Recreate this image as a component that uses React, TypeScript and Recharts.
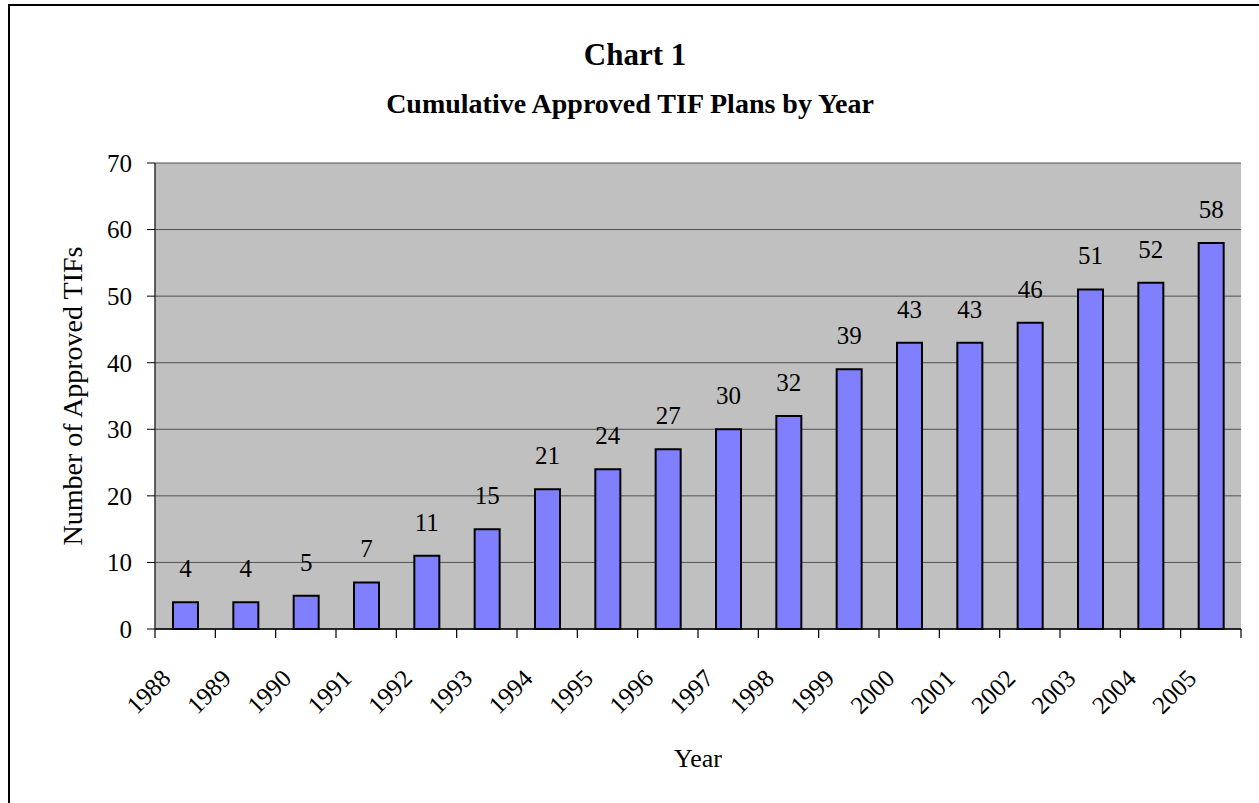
import React from "react";
import {
  BarChart,
  Bar,
  XAxis,
  YAxis,
  CartesianGrid,
  LabelList
} from "recharts";

const years = [
  "1988", "1989", "1990", "1991", "1992", "1993", "1994", "1995", "1996",
  "1997", "1998", "1999", "2000", "2001", "2002", "2003", "2004", "2005"
];
const approved = [4, 4, 5, 7, 11, 15, 21, 24, 27, 30, 32, 39, 43, 43, 46, 51, 52, 58];
const yTicks = [0, 10, 20, 30, 40, 50, 60, 70];

const data = years.map((year, i) => ({ year, approved: approved[i] }));

const FONT = '"Liberation Serif", "Times New Roman", serif';

// year label rotated 45deg, plus the tick marks at the category edges (Excel style)
const YearTick = (props: any) => {
  const { x, y, payload, index, visibleTicksCount } = props;
  const half = payload && payload.offset ? payload.offset : 30.17;
  const ax = x - 13;
  const ay = y + 51;
  const last = index === (visibleTicksCount ?? years.length) - 1;
  return (
    <g>
      <line x1={x - half} y1={y} x2={x - half} y2={y + 9} stroke="#000" strokeWidth={1.2} />
      {last && (
        <line x1={x + half} y1={y} x2={x + half} y2={y + 9} stroke="#000" strokeWidth={1.2} />
      )}
      <text
        x={ax}
        y={ay}
        textAnchor="end"
        fontFamily={FONT}
        fontSize={25}
        fill="#000"
        transform={`rotate(-45 ${ax} ${ay})`}
      >
        {payload.value}
      </text>
    </g>
  );
};

const YLabel = (props: any) => {
  const { viewBox } = props;
  const cx = viewBox.x + 82;
  const cy = viewBox.y + viewBox.height / 2;
  return (
    <text
      x={cx}
      y={cy}
      textAnchor="middle"
      fontFamily={FONT}
      fontSize={28}
      fill="#000"
      transform={`rotate(-90 ${cx} ${cy})`}
    >
      Number of Approved TIFs
    </text>
  );
};

export default function App() {
  return (
    <div
      style={{
        position: "absolute",
        left: 0,
        top: 0,
        width: 1259,
        height: 803,
        overflow: "hidden",
        background: "#fff"
      }}
    >
      <div
        style={{
          position: "absolute",
          left: 8,
          top: 4,
          width: 1400,
          height: 900,
          border: "2px solid #000"
        }}
      />
      <BarChart
        width={1259}
        height={803}
        data={data}
        margin={{ top: 163, right: 18, bottom: 74, left: 0 }}
        style={{ position: "absolute", left: 0, top: 0 }}
      >
        <CartesianGrid
          vertical={false}
          fill="#C0C0C0"
          fillOpacity={1}
          stroke="#505050"
        />
        <XAxis
          dataKey="year"
          height={100}
          axisLine={{ stroke: "#000", strokeWidth: 1.5 }}
          tickLine={false}
          tickSize={0}
          tickMargin={0}
          interval={0}
          tick={<YearTick />}
        />
        <YAxis
          width={155}
          domain={[0, 70]}
          ticks={yTicks}
          interval={0}
          tickSize={8}
          tickMargin={15}
          tick={{ fontFamily: FONT, fontSize: 25, fill: "#000" }}
          tickLine={{ stroke: "#000" }}
          axisLine={{ stroke: "#333", strokeWidth: 1.5 }}
          label={<YLabel />}
        />
        <YAxis
          yAxisId="right"
          orientation="right"
          width={0}
          domain={[0, 70]}
          tick={false}
          tickLine={false}
          axisLine={{ stroke: "#808080", strokeWidth: 1.5 }}
        />
        <Bar
          dataKey="approved"
          barSize={25}
          fill="#8080FF"
          stroke="#000"
          strokeWidth={2}
          isAnimationActive={false}
        >
          <LabelList
            dataKey="approved"
            position="top"
            offset={25}
            style={{ fontFamily: FONT, fontSize: 25, fill: "#000" }}
          />
        </Bar>
      </BarChart>
      <svg
        width={1259}
        height={803}
        style={{ position: "absolute", left: 0, top: 0, pointerEvents: "none" }}
      >
        <text x={635} y={65} textAnchor="middle" fontFamily={FONT} fontWeight="bold" fontSize={31} fill="#000">
          Chart 1
        </text>
        <text x={630} y={113} textAnchor="middle" fontFamily={FONT} fontWeight="bold" fontSize={28} fill="#000">
          Cumulative Approved TIF Plans by Year
        </text>
        <text x={698} y={767} textAnchor="middle" fontFamily={FONT} fontSize={26} fill="#000">
          Year
        </text>
      </svg>
    </div>
  );
}
